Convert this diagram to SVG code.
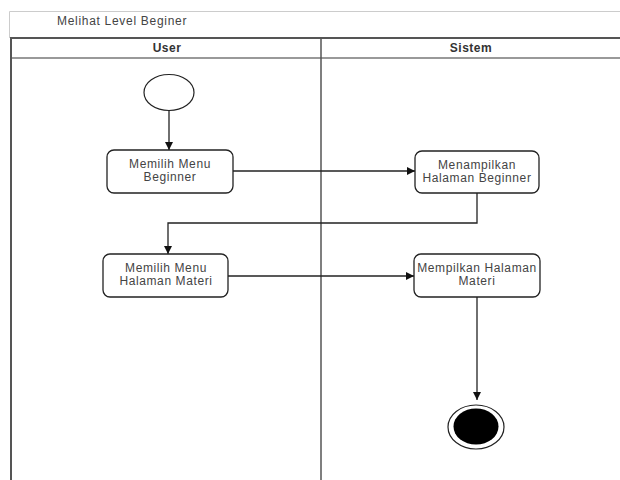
<svg xmlns="http://www.w3.org/2000/svg" width="620" height="480" viewBox="0 0 620 480">
  <style>
    .title { font-family: "Liberation Sans", Arial, sans-serif; font-size: 12px; letter-spacing: 0.7px; fill: #444; }
    .head { font-family: "Liberation Sans", Arial, sans-serif; font-size: 12px; letter-spacing: 0.5px; font-weight: bold; fill: #333; text-anchor: middle; }
    .label { font-family: "Liberation Sans", Arial, sans-serif; font-size: 12px; letter-spacing: 0.6px; fill: #444; text-anchor: middle; }
    .act { fill: #fff; stroke: #222; stroke-width: 1.3; }
    .lane { fill: none; stroke: #555; stroke-width: 2; }
    .edge { fill: none; stroke: #222; stroke-width: 1.3; }
  </style>
  <defs>
    <marker id="arrow" viewBox="0 0 10 10" refX="10" refY="5" markerWidth="8" markerHeight="8" markerUnits="userSpaceOnUse" orient="auto">
      <path d="M0,0 L10,5 L0,10 z" fill="#111"/>
    </marker>
  </defs>

  <rect width="620" height="480" fill="#fff"/>

  <!-- swimlane frame -->
  <g id="frame">
    <path d="M9.5,38 V11.5 H620" fill="none" stroke="#ccc" stroke-width="1"/>
    <text class="title" x="57" y="25">Melihat Level Beginer</text>
    <line class="lane" x1="10" y1="38" x2="620" y2="38"/>
    <line x1="10" y1="58" x2="620" y2="58" stroke="#777" stroke-width="1.5"/>
    <line class="lane" x1="11" y1="38" x2="11" y2="480" stroke="#777"/>
    <line x1="321" y1="38" x2="321" y2="480" stroke="#555" stroke-width="1.5"/>
    <text class="head" x="167" y="52">User</text>
    <text class="head" x="471" y="52">Sistem</text>
  </g>

  <!-- connectors -->
  <g id="connectors">
    <line class="edge" x1="169" y1="110" x2="169" y2="150" marker-end="url(#arrow)"/>
    <line class="edge" x1="233" y1="171" x2="415" y2="171" marker-end="url(#arrow)"/>
    <polyline class="edge" points="477,193 477,223 168,223 168,254" marker-end="url(#arrow)"/>
    <line class="edge" x1="228" y1="276" x2="414" y2="276" marker-end="url(#arrow)"/>
    <line class="edge" x1="477" y1="297" x2="477" y2="400" marker-end="url(#arrow)"/>
  </g>

  <!-- start node -->
  <g id="start">
    <ellipse cx="169" cy="92.5" rx="25" ry="18" fill="#fff" stroke="#222" stroke-width="1.2"/>
  </g>

  <g id="memilih-menu-beginner">
    <rect class="act" x="107" y="150" width="126" height="43" rx="7"/>
    <text class="label" x="170" y="168">Memilih Menu</text>
    <text class="label" x="170" y="181">Beginner</text>
  </g>

  <g id="menampilkan-halaman-beginner">
    <rect class="act" x="415" y="151" width="124" height="42" rx="7"/>
    <text class="label" x="477" y="169">Menampilkan</text>
    <text class="label" x="477" y="182">Halaman Beginner</text>
  </g>

  <g id="memilih-menu-halaman-materi">
    <rect class="act" x="103" y="254" width="125" height="43" rx="7"/>
    <text class="label" x="166" y="272">Memilih Menu</text>
    <text class="label" x="166" y="285">Halaman Materi</text>
  </g>

  <g id="mempilkan-halaman-materi">
    <rect class="act" x="414" y="254" width="126" height="43" rx="7"/>
    <text class="label" x="477" y="272">Mempilkan Halaman</text>
    <text class="label" x="477" y="285">Materi</text>
  </g>

  <!-- end node -->
  <g id="end">
    <ellipse cx="476" cy="427" rx="28" ry="22" fill="#fff" stroke="#222" stroke-width="1.2"/>
    <ellipse cx="476" cy="426.5" rx="22.5" ry="18" fill="#000"/>
  </g>
</svg>
